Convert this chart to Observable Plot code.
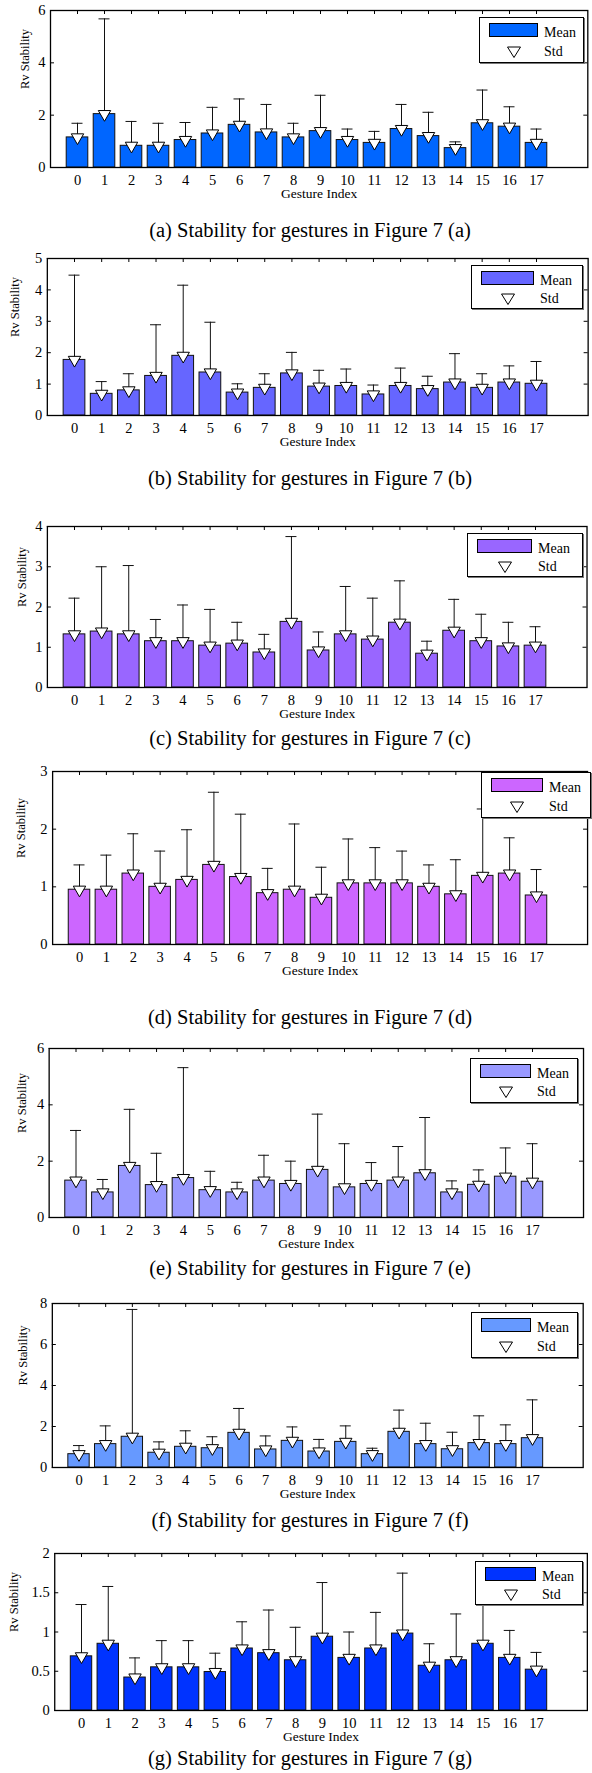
<!DOCTYPE html>
<html><head><meta charset="utf-8">
<script src="https://cdn.jsdelivr.net/npm/d3@7"></script>
<script src="https://cdn.jsdelivr.net/npm/@observablehq/plot@0.6"></script>
<style>
body{margin:0;background:#fff;}
#root{position:relative;width:592px;height:1773px;overflow:hidden;font-family:"Liberation Serif",serif;color:#000;}
#root svg text{font-family:"Liberation Serif",serif;}
.panel{position:absolute;left:0;}
.caption{position:absolute;left:110px;width:400px;text-align:center;font-size:20.5px;line-height:20px;white-space:nowrap;}
.legend{position:absolute;border:1px solid #000;background:#fff;box-sizing:border-box;box-shadow:1px 1px 0 #777;}
.legend .sw{position:absolute;border:1px solid #000;box-sizing:border-box;}
.legend .lt{position:absolute;font-size:14px;line-height:16px;white-space:nowrap;}
.legend svg{position:absolute;}
</style></head><body><div id="root"></div>
<script>
// ---------- data ----------
const gestures = [0,1,2,3,4,5,6,7,8,9,10,11,12,13,14,15,16,17];

const meanA = [1.15,2.04,0.83,0.83,1.05,1.30,1.63,1.34,1.15,1.39,1.05,0.94,1.47,1.20,0.74,1.69,1.56,0.94];
const stdA  = [0.54,3.64,0.93,0.86,0.67,1.00,0.99,1.07,0.54,1.37,0.42,0.44,0.94,0.91,0.24,1.27,0.76,0.53];

const meanB = [1.77,0.69,0.80,1.26,1.90,1.37,0.73,0.88,1.34,0.92,0.94,0.67,0.94,0.84,1.05,0.88,1.05,1.01];
const stdB  = [2.70,0.39,0.53,1.63,2.25,1.60,0.28,0.45,0.67,0.52,0.54,0.30,0.57,0.41,0.92,0.45,0.53,0.71];

const meanC = [1.32,1.39,1.32,1.15,1.15,1.04,1.09,0.87,1.63,0.92,1.32,1.19,1.61,0.84,1.41,1.15,1.02,1.04];
const stdC  = [0.90,1.61,1.71,0.54,0.90,0.90,0.53,0.45,2.12,0.46,1.19,1.03,1.04,0.31,0.78,0.67,0.60,0.47];

const meanD = [0.95,0.95,1.23,1.00,1.12,1.38,1.17,0.89,0.95,0.81,1.06,1.06,1.06,1.00,0.87,1.19,1.23,0.85];
const stdD  = [0.43,0.60,0.69,0.62,0.87,1.26,1.09,0.43,1.14,0.53,0.77,0.62,0.56,0.38,0.60,1.16,0.62,0.45];

const meanE = [1.31,0.89,1.83,1.15,1.40,0.97,0.89,1.31,1.19,1.69,1.07,1.19,1.31,1.57,0.89,1.16,1.45,1.27];
const stdE  = [1.78,0.46,2.01,1.13,3.92,0.67,0.36,0.90,0.81,1.98,1.55,0.76,1.21,1.98,0.41,0.53,1.02,1.35];

const meanF = [0.65,1.14,1.50,0.72,1.01,0.94,1.69,0.88,1.30,0.78,1.25,0.65,1.74,1.14,0.89,1.19,1.14,1.43];
const stdF  = [0.42,0.89,6.21,0.53,0.78,0.56,1.19,0.66,0.68,0.59,0.78,0.29,1.06,1.02,0.83,1.33,0.94,1.87];

const meanG = [0.69,0.85,0.42,0.55,0.55,0.49,0.79,0.73,0.64,0.94,0.67,0.79,0.98,0.57,0.64,0.85,0.67,0.52];
const stdG  = [0.66,0.73,0.25,0.34,0.34,0.24,0.34,0.55,0.42,0.69,0.33,0.46,0.77,0.28,0.59,0.60,0.35,0.22];

const yTicksA = [0,2,4,6];
const yTicksB = [0,1,2,3,4,5];
const yTicksC = [0,1,2,3,4];
const yTicksD = [0,1,2,3];
const yTicksE = [0,2,4,6];
const yTicksF = [0,2,4,6,8];
const yTicksG = [0,0.5,1,1.5,2];

const captions = [
  "(a) Stability for gestures in Figure 7 (a)",
  "(b) Stability for gestures in Figure 7 (b)",
  "(c) Stability for gestures in Figure 7 (c)",
  "(d) Stability for gestures in Figure 7 (d)",
  "(e) Stability for gestures in Figure 7 (e)",
  "(f) Stability for gestures in Figure 7 (f)",
  "(g) Stability for gestures in Figure 7 (g)"
];
const xLabel = "Gesture Index";
const yLabel = "Rv Stability";
const legendLabels = ["Mean", "Std"];

// ---------- layout / style ----------
const FONT = "Liberation Serif, serif";
const panels = [
  {mean: meanA, std: stdA, ticks: yTicksA, color: "#0066ff", top: 10,   h: 157, x0: 77,   x17: 536, legend: [479, 17,   105, 46], ylx: 24.5, cap: 230},
  {mean: meanB, std: stdB, ticks: yTicksB, color: "#6666ff", top: 258,  h: 157, x0: 74,   x17: 536, legend: [471, 265,  112, 44], ylx: 15,   cap: 478},
  {mean: meanC, std: stdC, ticks: yTicksC, color: "#9966ff", top: 526,  h: 161, x0: 74,   x17: 535, legend: [467, 533,  116, 44], ylx: 21,   cap: 738},
  {mean: meanD, std: stdD, ticks: yTicksD, color: "#cc66ff", top: 771,  h: 173, x0: 79,   x17: 536, legend: [481, 772,  110, 46], ylx: 21,   cap: 1017},
  {mean: meanE, std: stdE, ticks: yTicksE, color: "#9999ff", top: 1048, h: 169, x0: 75.5, x17: 532, legend: [470, 1058, 108, 45], ylx: 21,   cap: 1268},
  {mean: meanF, std: stdF, ticks: yTicksF, color: "#6699ff", top: 1303, h: 164, x0: 78.5, x17: 532, legend: [471, 1312, 107, 46], ylx: 23,   cap: 1520},
  {mean: meanG, std: stdG, ticks: yTicksG, color: "#0033ff", top: 1553, h: 157, x0: 81,   x17: 536, legend: [475, 1561, 108, 44], ylx: 13,   cap: 1758}
];

const root = document.getElementById("root");
const W = 592, MT = 10, MB = 44, XMAX = 18.9;

panels.forEach((p, k) => {
  const rows = gestures.map((g, i) => ({g, mean: p.mean[i], std: p.std[i]}));
  const s = (p.x17 - p.x0) / 17;
  const left = p.x0 - s;
  const right = p.x17 + (XMAX - 17) * s;
  const frameW = right - left;
  const yMax = p.ticks[p.ticks.length - 1];
  const capHalf = 5.5 / s;

  const chart = Plot.plot({
    width: W,
    height: MT + p.h + MB,
    marginTop: MT,
    marginBottom: MB,
    marginLeft: left,
    marginRight: W - right,
    style: {fontFamily: FONT, fontSize: "14px", background: "white", color: "black"},
    x: {type: "linear", domain: [-1, XMAX], axis: null},
    y: {type: "linear", domain: [0, yMax], axis: null},
    marks: [
      Plot.rectY(rows, {x1: d => d.g - 0.4, x2: d => d.g + 0.4, y1: 0, y2: "mean", fill: p.color, stroke: "#111", strokeWidth: 1}),
      Plot.ruleX(rows, {x: "g", y1: "mean", y2: d => d.mean + d.std, stroke: "#111", strokeWidth: 1}),
      Plot.ruleY(rows, {y: d => d.mean + d.std, x1: d => d.g - capHalf, x2: d => d.g + capHalf, stroke: "#111", strokeWidth: 1}),
      Plot.dot(rows, {x: "g", y: "mean", symbol: "triangle", rotate: 180, r: 4.6, fill: "white", stroke: "#000", strokeWidth: 1}),
      // inward ticks: top (categories), left and right (values)
      Plot.ruleX(gestures, {x: d => d, insetBottom: p.h - 4, stroke: "#000"}),
      Plot.ruleY(p.ticks, {y: d => d, insetRight: frameW - 4, stroke: "#000"}),
      Plot.ruleY(p.ticks, {y: d => d, insetLeft: frameW - 4, stroke: "#000"}),
      Plot.frame({stroke: "#000", strokeWidth: 1.3}),
      Plot.axisX({ticks: gestures, tickSize: 0, tickPadding: 7, label: null, fontSize: 14.5, fontFamily: FONT, tickFormat: d => String(d)}),
      Plot.axisY({ticks: p.ticks, tickSize: 0, tickPadding: 5, label: null, fontSize: 14.5, fontFamily: FONT, tickFormat: d => String(d)}),
      Plot.text([xLabel], {frameAnchor: "bottom", dy: 30, fontSize: 13.5, fontFamily: FONT}),
      Plot.text([yLabel], {frameAnchor: "left", rotate: -90, dx: p.ylx - left, fontSize: 12.5, fontFamily: FONT})
    ]
  });
  const wrap = document.createElement("div");
  wrap.className = "panel";
  wrap.style.top = (p.top - MT) + "px";
  wrap.appendChild(chart);
  root.appendChild(wrap);

  // legend
  const [lx, ly, lw, lh] = p.legend;
  const lg = document.createElement("div");
  lg.className = "legend";
  lg.style.left = lx + "px"; lg.style.top = ly + "px";
  lg.style.width = lw + "px"; lg.style.height = lh + "px";
  const swW = Math.round(lw * 0.47);
  const sw = document.createElement("div");
  sw.className = "sw";
  sw.style.left = "9px"; sw.style.top = "5px"; sw.style.width = swW + "px"; sw.style.height = "14px";
  sw.style.background = p.color;
  lg.appendChild(sw);
  const t1 = document.createElement("div");
  t1.className = "lt"; t1.textContent = legendLabels[0];
  t1.style.left = (9 + swW + 6) + "px"; t1.style.top = (lh * 0.33 - 8) + "px";
  lg.appendChild(t1);
  const t2 = document.createElement("div");
  t2.className = "lt"; t2.textContent = legendLabels[1];
  t2.style.left = (9 + swW + 6) + "px"; t2.style.top = (lh * 0.74 - 8) + "px";
  lg.appendChild(t2);
  const tri = document.createElementNS("http://www.w3.org/2000/svg", "svg");
  tri.setAttribute("width", 16); tri.setAttribute("height", 14);
  tri.style.left = (9 + swW / 2 - 8) + "px"; tri.style.top = (lh * 0.74 - 7) + "px";
  tri.innerHTML = '<polygon points="1.5,2 14.5,2 8,12.5" fill="white" stroke="#000" stroke-width="1"/>';
  lg.appendChild(tri);
  root.appendChild(lg);

  // caption
  const cap = document.createElement("div");
  cap.className = "caption";
  cap.textContent = captions[k];
  cap.style.top = (p.cap - 10) + "px";
  root.appendChild(cap);
});
</script>
</body></html>
